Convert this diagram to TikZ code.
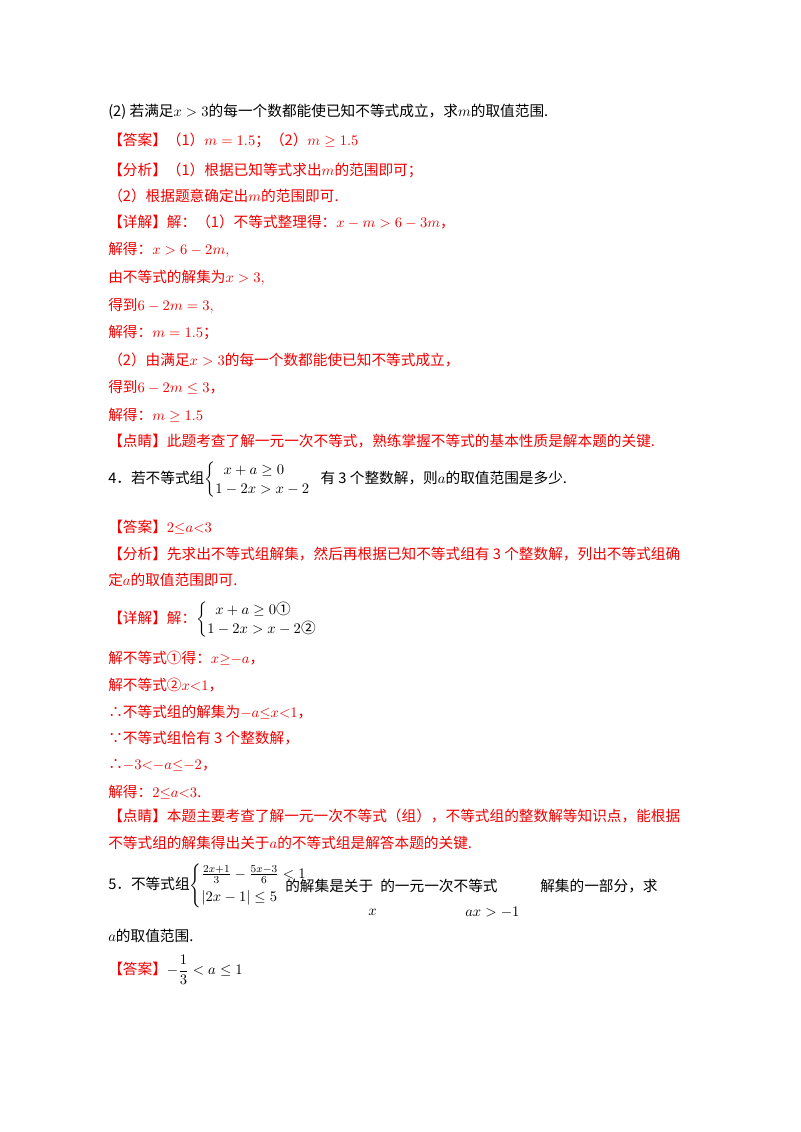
\documentclass[tikz,border=0pt]{standalone}
\usepackage{amsmath,amssymb}
\usepackage{fontspec}
\setmainfont{Noto Sans CJK SC}
\definecolor{ared}{RGB}{240,0,0}
\begin{document}
\begin{tikzpicture}[x=0.75pt,y=-0.75pt,
  t/.style={anchor=west,inner sep=0,font=\fontsize{11}{12}\selectfont},
  r/.style={t,text=ared}]
\useasboundingbox (0,0) rectangle (800,1132);
\fill[white] (0,0) rectangle (800,1132);
\node[t] (l1) at (108,112) {(2) 若满足$x>3$的每一个数都能使已知不等式成立，求$m$的取值范围.};
\node[r] (l2) at (108,140) {【答案】（1）$m=1.5$；（2）$m\ge1.5$};
\node[r] (l3) at (108,170) {【分析】（1）根据已知等式求出$m$的范围即可；};
\node[r] (l4) at (108,196) {（2）根据题意确定出$m$的范围即可.};
\node[r] (l5) at (108,222) {【详解】解：（1）不等式整理得：$x-m>6-3m$，};
\node[r] (l6) at (108,250) {解得：$x>6-2m,$};
\node[r] (l7) at (108,278) {由不等式的解集为$x>3,$};
\node[r] (l8) at (108,306) {得到$6-2m=3,$};
\node[r] (l9) at (108,333) {解得：$m=1.5$；};
\node[r] (l10) at (108,360) {（2）由满足$x>3$的每一个数都能使已知不等式成立，};
\node[r] (l11) at (108,387) {得到$6-2m\le3$，};
\node[r] (l12) at (108,415) {解得：$m\ge1.5$};
\node[r] (l13) at (108,441) {【点睛】此题考查了解一元一次不等式，熟练掌握不等式的基本性质是解本题的关键.};
\node[t] (l14) at (108,480) {4．若不等式组$\begin{cases}\;\;x+a\ge0\\1-2x>x-2\end{cases}$\!\!有 3 个整数解，则$a$的取值范围是多少.};
\node[r] (l15) at (108,527) {【答案】$2{\le}a{<}3$};
\node[r] (l16) at (108,554) {【分析】先求出不等式组解集，然后再根据已知不等式组有 3 个整数解，列出不等式组确};
\node[r] (l17) at (108,580) {定$a$的取值范围即可.};
\node[r] (l18) at (108,620) {【详解】解：{\color{black}$\begin{cases}\;\;x+a\ge0\text{①}\\1-2x>x-2\text{②}\end{cases}$}};
\node[r] (l19) at (108,658) {解不等式①得：$x{\ge}{-a}$，};
\node[r] (l20) at (108,685) {解不等式②$x{<}1$，};
\node[r] (l21) at (108,712) {∴不等式组的解集为$-a{\le}x{<}1$，};
\node[r] (l22) at (108,738) {∵不等式组恰有 3 个整数解，};
\node[r] (l23) at (108,765) {∴$-3{<}{-a}{\le}{-2}$，};
\node[r] (l24) at (108,792) {解得：$2{\le}a{<}3$.};
\node[r] (l25) at (108,816) {【点睛】本题主要考查了解一元一次不等式（组），不等式组的整数解等知识点，能根据};
\node[r] (l26) at (108,843) {不等式组的解集得出关于$a$的不等式组是解答本题的关键.};
\node[t] (l27) at (108,886) {5．不等式组$\begin{cases}\frac{2x+1}{3}-\frac{5x-3}{6}<1\\[3pt]|2x-1|\le5\end{cases}$};
\node[t] (l27b) at (285,886) {的解集是关于};
\node[t] (l27c) at (380,886) {的一元一次不等式};
\node[t] (l27d) at (540,886) {解集的一部分，求};
\node[t] (x5) at (368,912) {$x$};
\node[t] (ax5) at (465,912) {$ax>-1$};
\node[t] (l28) at (108,936) {$a$的取值范围.};
\node[r] (l29) at (108,970) {【答案】{\color{black}$-\dfrac13<a\le1$}};
\end{tikzpicture}
\end{document}
